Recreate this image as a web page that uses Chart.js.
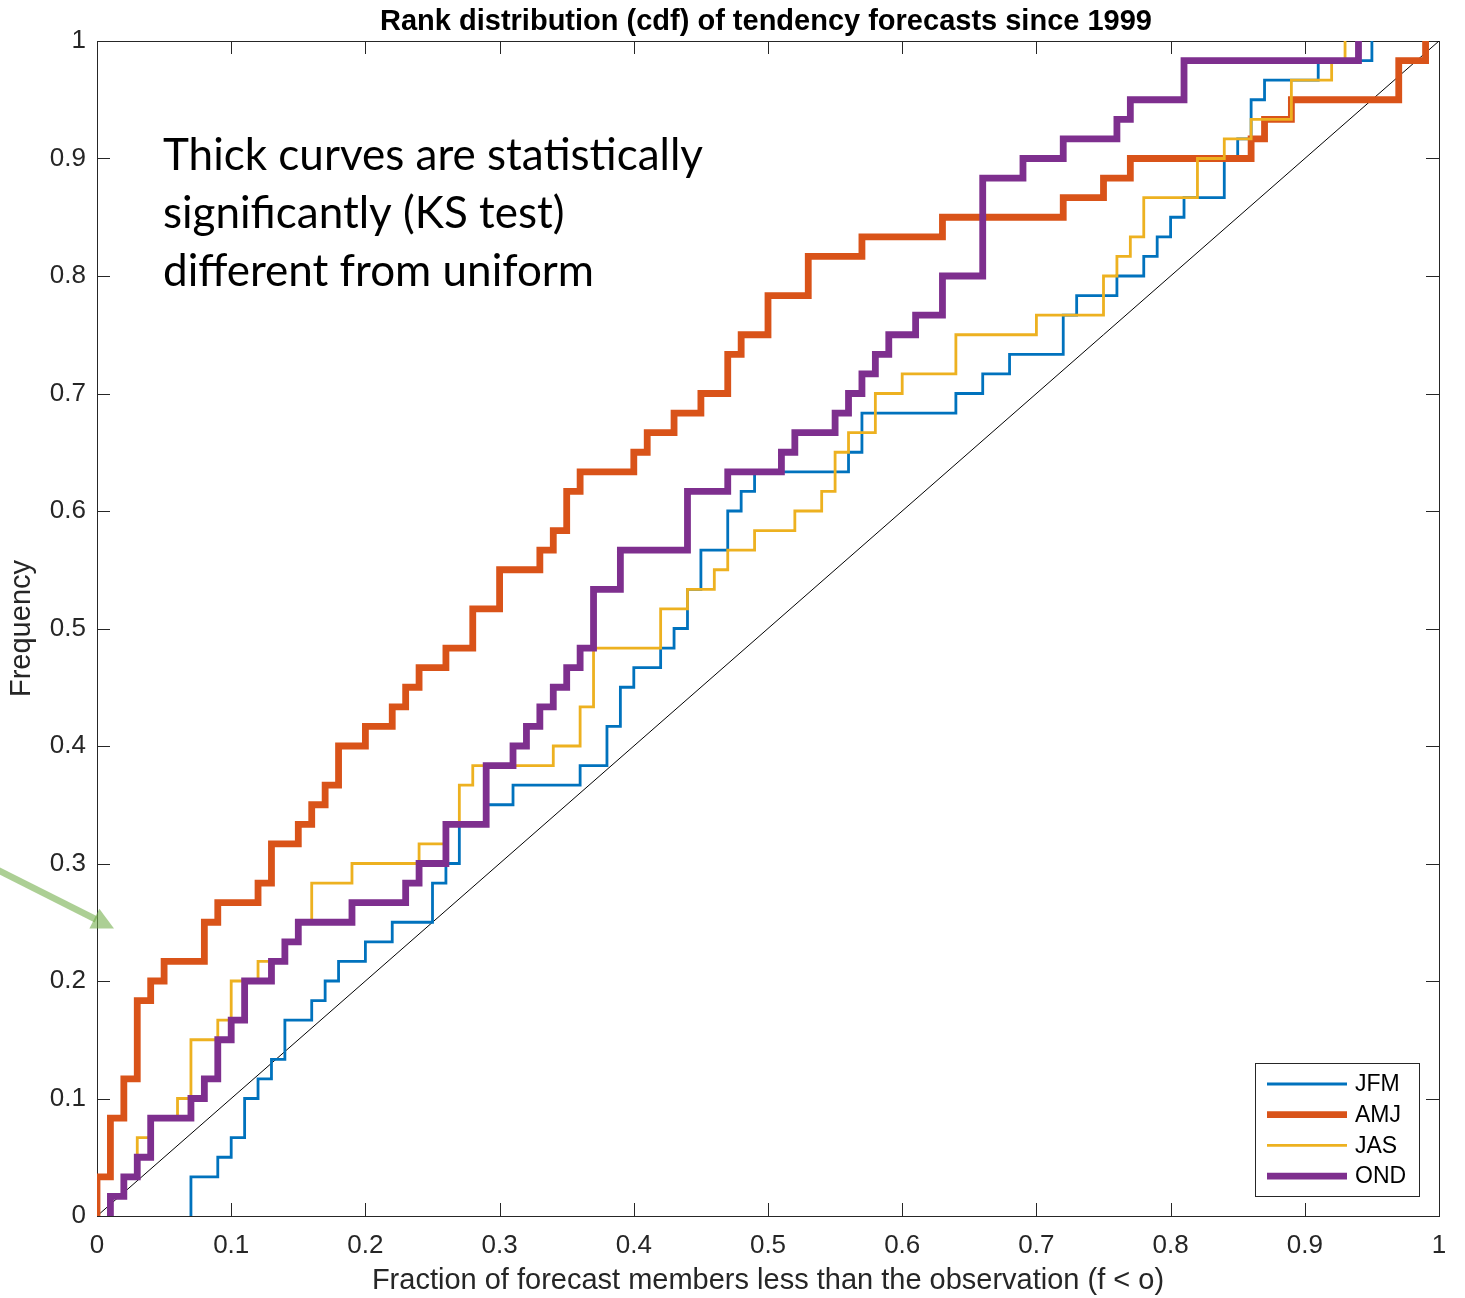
<!DOCTYPE html>
<html>
<head>
<meta charset="utf-8">
<title>Rank distribution (cdf) of tendency forecasts since 1999</title>
<script src="https://cdn.jsdelivr.net/npm/chart.js@4.4.1/dist/chart.umd.min.js"></script>
<style>
  html, body { margin: 0; padding: 0; background: #fff; }
  #wrap { width: 1465px; height: 1298px; }
</style>
</head>
<body>
<div id="wrap"><canvas id="rankChart" width="1465" height="1298"></canvas></div>
<script>
// forecasts per season since 1999
const N = 60;

// x where each cdf steps up, and the cumulative count reached at that x
const jfmX = [0.07, 0.09, 0.10, 0.11, 0.12, 0.13, 0.14, 0.16, 0.17, 0.18, 0.20, 0.22, 0.25, 0.26, 0.27, 0.29,
  0.31, 0.36, 0.38, 0.39, 0.40, 0.42, 0.43, 0.44, 0.45, 0.47, 0.48, 0.49, 0.56, 0.57, 0.64, 0.66, 0.68,
  0.72, 0.73, 0.76, 0.78, 0.79, 0.80, 0.81, 0.84, 0.85, 0.86, 0.87, 0.91, 0.95];
const jfmN = [2, 3, 4, 6, 7, 8, 10, 11, 12, 13, 14, 15, 17, 18, 20, 21,
  22, 23, 25, 27, 28, 29, 30, 32, 34, 36, 37, 38, 39, 41, 42, 43, 44,
  46, 47, 48, 49, 50, 51, 52, 54, 55, 57, 58, 59, 60];

const amjX = [0.00, 0.01, 0.02, 0.03, 0.04, 0.05, 0.08, 0.09, 0.12, 0.13, 0.15, 0.16, 0.17, 0.18, 0.20, 0.22,
  0.23, 0.24, 0.26, 0.28, 0.30, 0.33, 0.34, 0.35, 0.36, 0.40, 0.41, 0.43, 0.45, 0.47, 0.48, 0.50, 0.53,
  0.57, 0.63, 0.72, 0.75, 0.77, 0.86, 0.87, 0.89, 0.97, 0.99];
const amjN = [2, 5, 7, 11, 12, 13, 15, 16, 17, 19, 20, 21, 22, 24, 25, 26,
  27, 28, 29, 31, 33, 34, 35, 37, 38, 39, 40, 41, 42, 44, 45, 47, 49,
  50, 51, 52, 53, 54, 55, 56, 57, 59, 60];

const jasX = [0.01, 0.02, 0.03, 0.04, 0.06, 0.07, 0.09, 0.10, 0.12, 0.14, 0.15, 0.16, 0.19, 0.24, 0.26, 0.27,
  0.28, 0.34, 0.36, 0.37, 0.42, 0.44, 0.46, 0.47, 0.49, 0.52, 0.54, 0.55, 0.56, 0.58, 0.60, 0.64, 0.70,
  0.75, 0.76, 0.77, 0.78, 0.82, 0.84, 0.86, 0.89, 0.92, 0.93];
const jasN = [1, 2, 4, 5, 6, 9, 10, 12, 13, 14, 15, 17, 18, 19, 20, 22,
  23, 24, 26, 29, 31, 32, 33, 34, 35, 36, 37, 39, 40, 42, 43, 45, 46,
  48, 49, 50, 52, 54, 55, 56, 58, 59, 60];

const ondX = [0.01, 0.02, 0.03, 0.04, 0.07, 0.08, 0.09, 0.10, 0.11, 0.13, 0.14, 0.15, 0.19, 0.23, 0.24, 0.26,
  0.29, 0.31, 0.32, 0.33, 0.34, 0.35, 0.36, 0.37, 0.39, 0.44, 0.47, 0.51, 0.52, 0.55, 0.56, 0.57, 0.58,
  0.59, 0.61, 0.63, 0.66, 0.69, 0.72, 0.76, 0.77, 0.81, 0.94];
const ondN = [1, 2, 3, 5, 6, 7, 9, 10, 12, 13, 14, 15, 16, 17, 18, 20,
  23, 24, 25, 26, 27, 28, 29, 32, 34, 37, 38, 39, 40, 41, 42, 43, 44,
  45, 46, 48, 53, 54, 55, 56, 57, 59, 60];

const xTicks = [0, 0.1, 0.2, 0.3, 0.4, 0.5, 0.6, 0.7, 0.8, 0.9, 1];
const xTickLabels = ['0', '0.1', '0.2', '0.3', '0.4', '0.5', '0.6', '0.7', '0.8', '0.9', '1'];
const yTicks = [0, 0.1, 0.2, 0.3, 0.4, 0.5, 0.6, 0.7, 0.8, 0.9, 1];
const yTickLabels = ['0', '0.1', '0.2', '0.3', '0.4', '0.5', '0.6', '0.7', '0.8', '0.9', '1'];

const noteLines = ['Thick curves are statistically', 'significantly (KS test)', 'different from uniform'];

const AXIS_COLOR = '#262626';
const FONT = '"Liberation Sans", Arial, Helvetica, sans-serif';

// turn step positions into points; first point sits on the x axis
function cdfPoints(xs, counts) {
  const pts = [{ x: xs[0], y: 0 }];
  xs.forEach((x, i) => pts.push({ x: x, y: counts[i] / N }));
  return pts;
}

function seasonSet(label, xs, counts, color, width, order) {
  return {
    label: label,
    data: cdfPoints(xs, counts),
    borderColor: color,
    backgroundColor: color,
    borderWidth: width,
    stepped: true,
    showLine: true,
    pointRadius: 0,
    fill: false,
    order: order,
  };
}

function line(ctx, x1, y1, x2, y2) {
  ctx.beginPath();
  ctx.moveTo(x1, y1);
  ctx.lineTo(x2, y2);
  ctx.stroke();
}

// box around the axes with ticks pointing inwards on all four sides
const axesBox = {
  id: 'axesBox',
  beforeDatasetsDraw(chart) {
    const { ctx, chartArea: a, scales } = chart;
    ctx.save();
    ctx.strokeStyle = AXIS_COLOR;
    ctx.lineWidth = 1;
    ctx.strokeRect(a.left + 0.5, a.top + 0.5, a.right - a.left, a.bottom - a.top);
    const len = 13;
    xTicks.forEach((v) => {
      const px = Math.round(scales.x.getPixelForValue(v)) + 0.5;
      line(ctx, px, a.bottom, px, a.bottom - len);
      line(ctx, px, a.top, px, a.top + len);
    });
    yTicks.forEach((v) => {
      const py = Math.round(scales.y.getPixelForValue(v)) + 0.5;
      line(ctx, a.left, py, a.left + len, py);
      line(ctx, a.right, py, a.right - len, py);
    });
    ctx.restore();
  },
  afterDraw(chart) {
    const { ctx, chartArea: a } = chart;
    ctx.save();

    // title
    ctx.fillStyle = '#000';
    ctx.font = 'bold 29px ' + FONT;
    ctx.textAlign = 'center';
    ctx.textBaseline = 'alphabetic';
    ctx.fillText('Rank distribution (cdf) of tendency forecasts since 1999', 766, 30);

    // note in the upper left
    ctx.font = '44px Lato, "Open Sans", sans-serif';
    ctx.textAlign = 'left';
    noteLines.forEach((t, i) => ctx.fillText(t, 163, 170 + i * 58));

    // legend in the lower right corner
    const lg = { right: a.right - 20, bottom: a.bottom - 20, w: 164, h: 133 };
    const lx = lg.right - lg.w;
    const ly = lg.bottom - lg.h;
    ctx.fillStyle = '#fff';
    ctx.fillRect(lx, ly, lg.w, lg.h);
    ctx.strokeStyle = AXIS_COLOR;
    ctx.lineWidth = 1;
    ctx.strokeRect(lx + 0.5, ly + 0.5, lg.w, lg.h);
    ctx.font = '23px ' + FONT;
    ctx.textBaseline = 'middle';
    const entries = chart.data.datasets.filter((d) => d.label);
    entries.forEach((d, i) => {
      const cy = ly + 21 + i * 30.7;
      ctx.strokeStyle = d.borderColor;
      ctx.lineWidth = d.borderWidth;
      line(ctx, lx + 12, cy, lx + 92, cy);
      ctx.fillStyle = '#000';
      ctx.fillText(d.label, lx + 100, cy + 1);
    });

    // green pointer arrow at the left edge
    const tail = { x: -4, y: 869 };
    const tip = { x: 114, y: 928.5 };
    const ang = Math.atan2(tip.y - tail.y, tip.x - tail.x);
    const headLen = 22;
    const headHalf = 11;
    const bx = tip.x - headLen * Math.cos(ang);
    const by = tip.y - headLen * Math.sin(ang);
    ctx.fillStyle = 'rgba(112, 173, 71, 0.58)';
    ctx.strokeStyle = 'rgba(112, 173, 71, 0.58)';
    ctx.lineWidth = 6.5;
    line(ctx, tail.x, tail.y, bx + 2 * Math.cos(ang), by + 2 * Math.sin(ang));
    ctx.beginPath();
    ctx.moveTo(tip.x, tip.y);
    ctx.lineTo(bx - headHalf * Math.sin(ang), by + headHalf * Math.cos(ang));
    ctx.lineTo(bx + headHalf * Math.sin(ang), by - headHalf * Math.cos(ang));
    ctx.closePath();
    ctx.fill();

    ctx.restore();
  },
};

const ctx = document.getElementById('rankChart').getContext('2d');
new Chart(ctx, {
  type: 'scatter',
  data: {
    datasets: [
      {
        data: [{ x: 0, y: 0 }, { x: 1, y: 1 }],
        borderColor: '#000',
        borderWidth: 1,
        showLine: true,
        pointRadius: 0,
        order: 5,
      },
      seasonSet('JFM', jfmX, jfmN, '#0072BD', 2.8, 4),
      seasonSet('AMJ', amjX, amjN, '#D95319', 6.8, 3),
      seasonSet('JAS', jasX, jasN, '#EDB120', 2.8, 2),
      seasonSet('OND', ondX, ondN, '#7E2F8E', 6.8, 1),
    ],
  },
  options: {
    responsive: false,
    animation: false,
    devicePixelRatio: 1,
    layout: { padding: { top: 41, right: 26, bottom: 0, left: 0 } },
    plugins: {
      legend: { display: false },
      tooltip: { enabled: false },
      title: { display: false },
    },
    scales: {
      x: {
        type: 'linear',
        min: 0,
        max: 1,
        grid: { display: false, drawTicks: false },
        border: { display: false },
        afterBuildTicks: (s) => { s.ticks = xTicks.map((v) => ({ value: v })); },
        afterFit: (s) => { s.height = 82; },
        ticks: {
          padding: 14,
          autoSkip: false,
          maxRotation: 0,
          color: AXIS_COLOR,
          font: { family: FONT, size: 26 },
          callback: (v, i) => xTickLabels[i],
        },
        title: {
          display: true,
          text: 'Fraction of forecast members less than the observation (f < o)',
          color: AXIS_COLOR,
          font: { family: FONT, size: 29 },
          padding: { top: 0, bottom: 0 },
        },
      },
      y: {
        type: 'linear',
        min: 0,
        max: 1,
        grid: { display: false, drawTicks: false },
        border: { display: false },
        afterBuildTicks: (s) => { s.ticks = yTicks.map((v) => ({ value: v })); },
        afterFit: (s) => { s.width = 97; },
        ticks: {
          padding: 11,
          autoSkip: false,
          color: AXIS_COLOR,
          font: { family: FONT, size: 26 },
          callback: (v, i) => yTickLabels[i],
        },
        title: {
          display: true,
          text: 'Frequency',
          color: AXIS_COLOR,
          font: { family: FONT, size: 29 },
          padding: { top: 5, bottom: 0 },
        },
      },
    },
  },
  plugins: [axesBox],
});
</script>
</body>
</html>
